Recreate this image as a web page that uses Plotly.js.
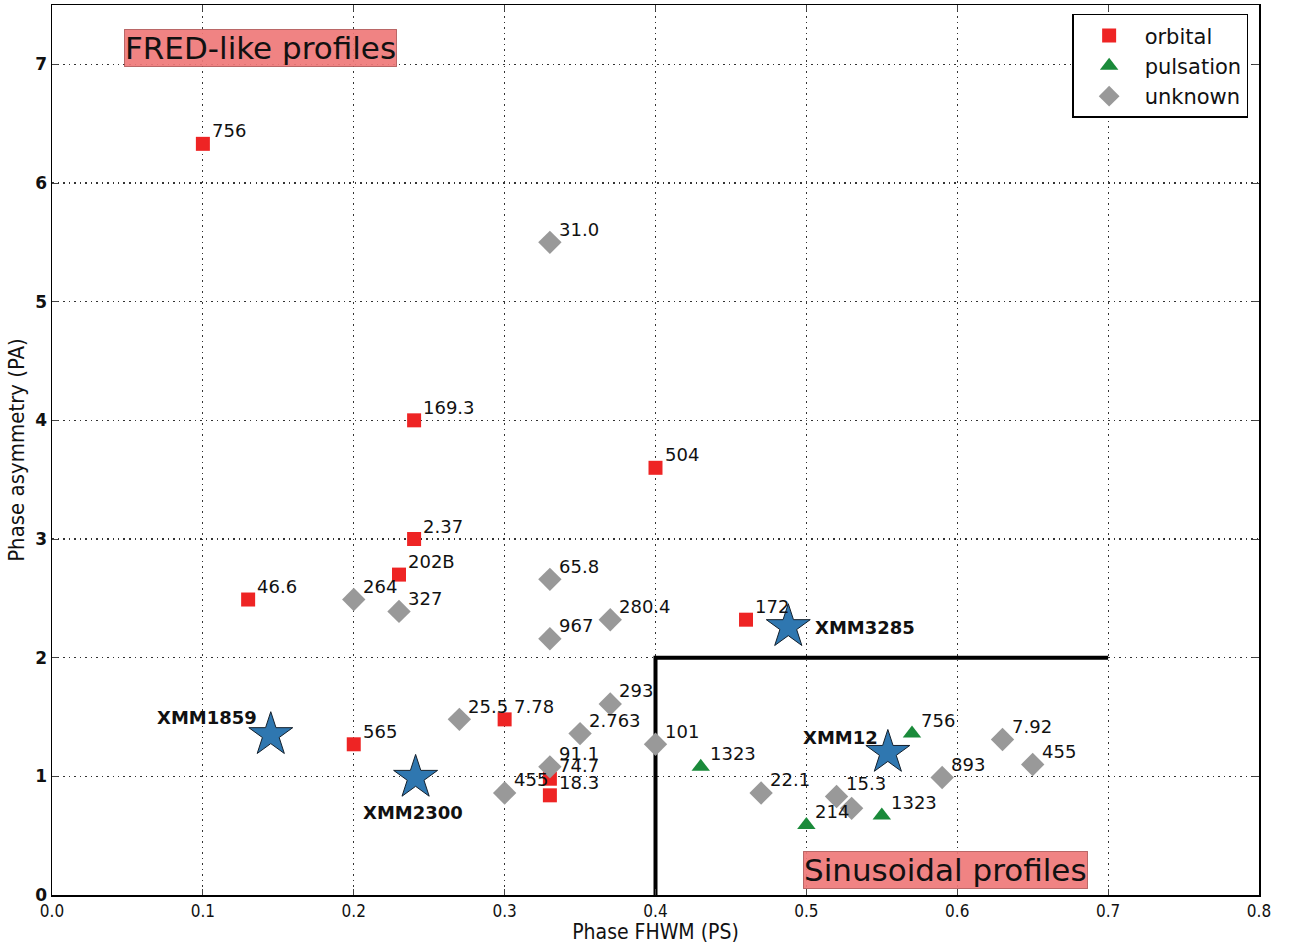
<!DOCTYPE html>
<html><head><meta charset="utf-8">
<script src="https://cdn.plot.ly/plotly-3.0.1.min.js"></script>
<style>body{margin:0;background:#fff}#chart{width:1290px;height:944px}</style>
</head><body><div id="chart"></div>
<script>
// ---- data ----
const orbitalX = [0.10, 0.24, 0.40, 0.24, 0.23, 0.13, 0.46, 0.20, 0.30, 0.33, 0.33];
const orbitalY = [6.33, 4.00, 3.60, 3.00, 2.70, 2.49, 2.32, 1.27, 1.48, 0.98, 0.84];
const orbitalLabels = ['756', '169.3', '504', '2.37', '202B', '46.6', '172', '565', '7.78', '74.7', '18.3'];

const pulsationX = [0.57, 0.43, 0.50, 0.55];
const pulsationY = [1.36, 1.08, 0.59, 0.67];
const pulsationLabels = ['756', '1323', '214', '1323'];

const unknownX = [0.33, 0.33, 0.20, 0.23, 0.37, 0.33, 0.37, 0.27, 0.35, 0.40, 0.33, 0.30, 0.47, 0.52, 0.53, 0.59, 0.63, 0.65];
const unknownY = [5.50, 2.66, 2.49, 2.39, 2.32, 2.16, 1.61, 1.48, 1.36, 1.27, 1.08, 0.86, 0.86, 0.83, 0.73, 0.99, 1.31, 1.10];
const unknownLabels = ['31.0', '65.8', '264', '327', '280.4', '967', '293', '25.5', '2.763', '101', '91.1', '455', '22.1', '15.3', '', '893', '7.92', '455'];

const starX = [0.145, 0.241, 0.488, 0.554];
const starY = [1.35, 0.99, 2.26, 1.20];
const starLabels = ['XMM1859', 'XMM2300', 'XMM3285', 'XMM12'];

const boundaryX = [0.4, 0.4, 0.7];
const boundaryY = [0, 2, 2];

const xTicks = [0, 0.1, 0.2, 0.3, 0.4, 0.5, 0.6, 0.7, 0.8];
const yTicks = [0, 1, 2, 3, 4, 5, 6, 7];
// --------------

const traces = [
  {x: boundaryX, y: boundaryY, mode: 'lines', line: {color: '#000', width: 4}, showlegend: false, hoverinfo: 'skip'},
  {x: orbitalX, y: orbitalY, name: 'orbital', mode: 'markers',
   marker: {symbol: 'square', size: 14, color: '#ee2424', line: {width: 0}}},
  {x: pulsationX, y: pulsationY, name: 'pulsation', mode: 'markers',
   marker: {symbol: 'triangle-up', size: 16, color: '#1a8a3a', line: {width: 0}}},
  {x: unknownX, y: unknownY, name: 'unknown', mode: 'markers',
   marker: {symbol: 'diamond', size: 18, color: '#999999', line: {width: 0}}},
  {x: starX, y: starY, mode: 'markers', showlegend: false,
   marker: {symbol: 'star', size: 33, color: '#2f77b0', line: {color: '#14202c', width: 1}}}
];

const lblFont = {family: 'DejaVu Sans', size: 18, color: '#111'};
const annotations = [];
function addLabels(xs, ys, labels) {
  xs.forEach((x, i) => {
    if (!labels[i]) return;
    annotations.push({x: x, y: ys[i], xref: 'x', yref: 'y', text: labels[i], showarrow: false,
      xanchor: 'left', yanchor: 'middle', xshift: 7, yshift: 13, font: lblFont});
  });
}
addLabels(orbitalX, orbitalY, orbitalLabels);
addLabels(pulsationX, pulsationY, pulsationLabels);
addLabels(unknownX, unknownY, unknownLabels);

const starLabelStyle = [
  {xanchor: 'right', xshift: -12, yshift: 17},
  {xanchor: 'center', xshift: -3, yshift: -35},
  {xanchor: 'left', xshift: 25, yshift: -1},
  {xanchor: 'right', xshift: -8, yshift: 15}
];
starX.forEach((x, i) => {
  annotations.push(Object.assign({x: x, y: starY[i], xref: 'x', yref: 'y', text: '<b>' + starLabels[i] + '</b>',
    showarrow: false, yanchor: 'middle', font: {family: 'DejaVu Sans', size: 18, color: '#111'}}, starLabelStyle[i]));
});

const boxStyle = {xref: 'x', yref: 'y', showarrow: false,
  font: {family: 'DejaVu Sans', size: 31, color: '#111'}, bgcolor: 'rgba(239,120,120,0.92)',
  bordercolor: 'rgba(170,80,80,0.8)', borderwidth: 1, borderpad: 0};
annotations.push(Object.assign({x: 0.1385, y: 7.14, text: 'FRED-like profiles'}, boxStyle));
annotations.push(Object.assign({x: 0.5925, y: 0.21, text: 'Sinusoidal profiles'}, boxStyle));

const gridDash = '1.5px,4px';
const layout = {
  width: 1290, height: 944,
  margin: {l: 52, r: 31, t: 5, b: 49},
  paper_bgcolor: '#fff', plot_bgcolor: '#fff',
  showlegend: true,
  legend: {x: 0.991, y: 0.99, xanchor: 'right', yanchor: 'top',
    bordercolor: '#000', borderwidth: 1.5, bgcolor: '#fff',
    font: {family: 'DejaVu Sans', size: 21, color: '#111'}, itemsizing: 'trace', itemwidth: 61, tracegroupgap: 2},
  xaxis: {range: [0, 0.8], tickvals: xTicks, tickformat: '.1f',
    showgrid: true, gridcolor: '#333', griddash: gridDash, gridwidth: 1.2,
    showline: true, linecolor: '#000', linewidth: 1.5, mirror: 'ticks', ticks: 'inside', ticklen: 6,
    zeroline: false, tickfont: {family: 'DejaVu Sans Condensed, DejaVu Sans', size: 17, color: '#111'},
    title: {text: 'Phase FHWM (PS)', font: {family: 'DejaVu Sans Condensed, DejaVu Sans', size: 21, color: '#111'}, standoff: 6}},
  yaxis: {range: [0, 7.5], tickvals: yTicks,
    showgrid: true, gridcolor: '#333', griddash: gridDash, gridwidth: 1.2,
    showline: true, linecolor: '#000', linewidth: 1.5, mirror: 'ticks', ticks: 'inside', ticklen: 6,
    zeroline: false, tickfont: {family: 'DejaVu Sans', size: 17, color: '#111', weight: 'bold'},
    title: {text: 'Phase asymmetry (PA)', font: {family: 'DejaVu Sans Condensed, DejaVu Sans', size: 22, color: '#111'}, standoff: 4}},
  annotations: annotations
};

Plotly.newPlot('chart', traces, layout, {displayModeBar: false, staticPlot: true});
</script></body></html>
